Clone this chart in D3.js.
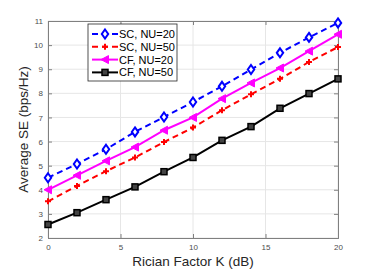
<!DOCTYPE html>
<html lang="en">
<head>
    <meta charset="UTF-8">
    <title>Average SE vs Rician Factor</title>
    <script src="https://d3js.org/d3.v7.min.js"></script>
    <style>
        body { margin: 0; background: #fff; }
        text { font-family: "Liberation Sans", Arial, sans-serif; }
        .tick text { font-size: 8px; fill: #4d4d4d; }
        .grid line { stroke: #e6e6e6; }
    </style>
</head>
<body>
    <svg id="chart" width="374" height="271"></svg>
    <script>
        // values
        const kValues = [0, 2, 4, 6, 8, 10, 12, 14, 16, 18, 20];
        const sc20 = [4.5, 5.07, 5.68, 6.4, 7.02, 7.64, 8.29, 8.99, 9.68, 10.32, 10.92];
        const sc50 = [3.52, 4.16, 4.77, 5.34, 5.98, 6.58, 7.3, 7.96, 8.6, 9.3, 9.92];
        const cf20 = [4.0, 4.6, 5.2, 5.77, 6.47, 7.0, 7.78, 8.43, 9.05, 9.75, 10.45];
        const cf50 = [2.56, 3.05, 3.59, 4.12, 4.75, 5.34, 6.05, 6.62, 7.38, 7.99, 8.6];
        const xTicks = [0, 5, 10, 15, 20];
        const yTicks = [2, 3, 4, 5, 6, 7, 8, 9, 10, 11];

        const series = [
            { name: "SC, NU=20", values: sc20, color: "#0000ff", dash: "6,4", marker: "diamond" },
            { name: "SC, NU=50", values: sc50, color: "#ff0000", dash: "6,4", marker: "plus" },
            { name: "CF, NU=20", values: cf20, color: "#ff00ff", dash: null, marker: "triangle" },
            { name: "CF, NU=50", values: cf50, color: "#000000", dash: null, marker: "square" }
        ];

        const margin = { left: 48, right: 36, top: 21, bottom: 33 };
        const width = 374, height = 271;
        const svg = d3.select("#chart");

        const x = d3.scaleLinear().domain([0, 20]).range([margin.left, width - margin.right]);
        const y = d3.scaleLinear().domain([2, 11]).range([height - margin.bottom, margin.top]);

        // grid
        const grid = svg.append("g").attr("class", "grid");
        grid.selectAll(".vx").data(xTicks).enter().append("line")
            .attr("x1", d => x(d)).attr("x2", d => x(d))
            .attr("y1", y(2)).attr("y2", y(11));
        grid.selectAll(".hy").data(yTicks).enter().append("line")
            .attr("x1", x(0)).attr("x2", x(20))
            .attr("y1", d => y(d)).attr("y2", d => y(d));

        // axes
        svg.append("g")
            .attr("transform", `translate(0,${y(2)})`)
            .call(d3.axisBottom(x).tickValues(xTicks).tickSize(-4).tickPadding(6));
        svg.append("g")
            .attr("transform", `translate(${x(0)},0)`)
            .call(d3.axisLeft(y).tickValues(yTicks).tickSize(-4).tickPadding(5));
        svg.append("g")
            .attr("transform", `translate(0,${y(11)})`)
            .call(d3.axisTop(x).tickValues(xTicks).tickSize(-4).tickFormat(""));
        svg.append("g")
            .attr("transform", `translate(${x(20)},0)`)
            .call(d3.axisRight(y).tickValues(yTicks).tickSize(-4).tickFormat(""));
        svg.selectAll(".domain, .tick line").attr("stroke", "#808080");

        // axis labels
        svg.append("text")
            .attr("x", (x(0) + x(20)) / 2).attr("y", 266)
            .attr("text-anchor", "middle")
            .attr("font-size", 13.5).attr("fill", "#262626")
            .text("Rician Factor K (dB)");
        svg.append("text")
            .attr("transform", `translate(28,${(y(2) + y(11)) / 2}) rotate(-90)`)
            .attr("text-anchor", "middle")
            .attr("font-size", 13.5).attr("fill", "#262626")
            .text("Average SE (bps/Hz)");

        function drawMarker(g, type, color) {
            if (type === "diamond") {
                g.append("path").attr("d", "M0,-4.5L3.2,0L0,4.5L-3.2,0Z")
                    .attr("fill", "#fff").attr("stroke", color).attr("stroke-width", 2);
            } else if (type === "plus") {
                g.append("path").attr("d", "M-3,0H3M0,-3V3")
                    .attr("stroke", color).attr("stroke-width", 2);
            } else if (type === "triangle") {
                g.append("path").attr("d", "M-4,0L3.5,-4L3.5,4Z")
                    .attr("fill", color).attr("stroke", color).attr("stroke-width", 1);
            } else {
                g.append("rect").attr("x", -3).attr("y", -3).attr("width", 6).attr("height", 6)
                    .attr("fill", "#444").attr("stroke", color).attr("stroke-width", 1.5);
            }
        }

        const line = d3.line().x((d, i) => x(kValues[i])).y(d => y(d));

        series.forEach(s => {
            const g = svg.append("g");
            g.append("path")
                .attr("d", line(s.values))
                .attr("fill", "none")
                .attr("stroke", s.color)
                .attr("stroke-width", 2)
                .attr("stroke-dasharray", s.dash);
            g.selectAll(".m").data(s.values).enter().append("g")
                .attr("transform", (d, i) => `translate(${x(kValues[i])},${y(d)})`)
                .each(function () { drawMarker(d3.select(this), s.marker, s.color); });
        });

        // legend
        const legend = svg.append("g").attr("transform", "translate(88,24)");
        legend.append("rect").attr("width", 89).attr("height", 57)
            .attr("fill", "#fff").attr("stroke", "#262626").attr("stroke-width", 0.8);
        series.forEach((s, i) => {
            const row = legend.append("g").attr("transform", `translate(0,${10 + i * 12.8})`);
            row.append("line").attr("x1", 4).attr("x2", 30)
                .attr("stroke", s.color).attr("stroke-width", 2)
                .attr("stroke-dasharray", s.dash);
            const m = row.append("g").attr("transform", "translate(17,0)");
            drawMarker(m, s.marker, s.color);
            row.append("text").attr("x", 31).attr("y", 4)
                .attr("font-size", 11).attr("fill", "#000")
                .text(s.name);
        });
    </script>
</body>
</html>
